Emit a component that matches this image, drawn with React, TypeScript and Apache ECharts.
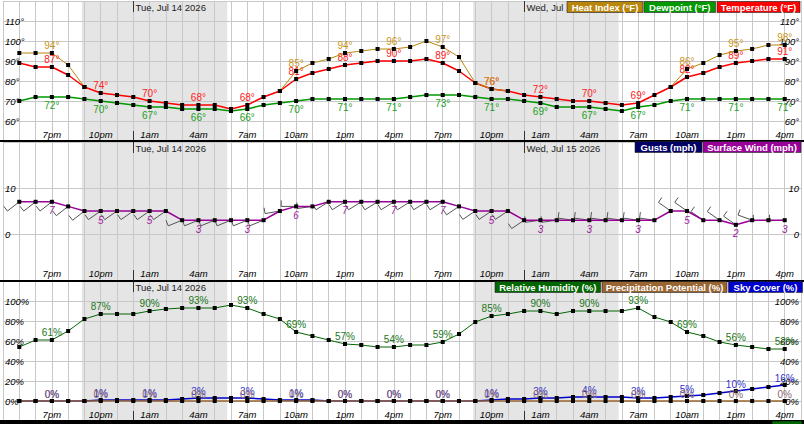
import React, { useEffect, useRef } from 'react';
import * as echarts from 'echarts';

// hour index 0 = Mon 5pm ... 47 = Wed 4pm
const xTickLabels = ['7pm', '10pm', '1am', '4am', '7am', '10am', '1pm', '4pm', '7pm', '10pm', '1am', '4am', '7am', '10am', '1pm', '4pm'];
const dayStarts = [7, 31];
const dayNames = ['Tue, Jul 14 2026', 'Wed, Jul 15 2026'];
const nightStart = [3.84, 27.87];
const nightEnd = [12.77, 36.8];

const temperature = [89, 87, 87, 83, 77, 74, 73, 72, 70, 69, 68, 68, 68, 66, 68, 72, 75, 81, 84, 86, 88, 89, 90, 90, 90, 91, 89, 85, 79, 76, 75, 73, 72, 71, 70, 70, 69, 68, 69, 73, 77, 82, 84, 87, 89, 90, 91, 91];
const heatIndex = [94, 94, 94, 88, 77, null, null, null, null, null, null, null, null, null, null, null, 75, 85, 89, 91, 94, 95, 96, 96, 97, 100, 97, 92, 79, 76, 75, null, null, null, null, null, null, null, null, null, 77, 86, 89, 93, 95, 96, 98, 98];
const dewpoint = [70, 72, 72, 72, 71, 70, 69, 68, 67, 67, 66, 66, 66, 65, 66, 68, 69, 70, 71, 71, 71, 71, 71, 71, 72, 73, 73, 73, 72, 71, 71, 70, 69, 67, 67, 67, 66, 65, 67, 68, 70, 71, 71, 71, 71, 71, 71, 71];
const windSpeed = [7, 7, 7, 6, 5, 5, 5, 5, 5, 5, 3, 3, 3, 3, 3, 3, 5, 6, 6, 7, 7, 7, 7, 7, 7, 7, 7, 6, 5, 5, 5, 3, 3, 3, 3, 3, 3, 3, 3, 3, 5, 5, 3, 3, 2, 3, 3, 3];
const windDir = [232, 232, 232, 232, 232, 235, 235, 235, 235, 235, 248, 248, 248, 248, 248, 248, 260, 270, 262, 238, 238, 238, 238, 238, 238, 238, 238, 236, 236, 236, 236, 236, 262, 262, 278, 278, 278, 278, 278, 278, 305, 305, 305, 305, 305, 290, 268, 268];
const humidity = [54, 61, 61, 70, 82, 87, 87, 87, 90, 92, 93, 93, 93, 96, 93, 87, 82, 69, 65, 61, 57, 56, 54, 54, 56, 56, 59, 67, 79, 85, 87, 90, 90, 87, 90, 90, 90, 90, 93, 84, 79, 69, 65, 59, 56, 54, 52, 52];
const precipitation = [0, 0, 0, 0, 0, 0, 0, 0, 0, 0, 0, 0, 0, 0, 0, 0, 0, 0, 0, 0, 0, 0, 0, 0, 0, 0, 0, 0, 0, 0, 0, 0, 0, 0, 0, 0, 0, 0, 0, 0, 0, 0, 0, 0, 0, 0, 0, 0];
const skyCover = [0, 0, 0, 0, 0, 1, 1, 1, 1, 1, 2, 3, 3, 3, 3, 2, 1, 1, 1, 0, 0, 0, 0, 0, 0, 0, 0, 0, 0, 1, 2, 2, 3, 3, 4, 4, 4, 4, 3, 3, 4, 5, 6, 8, 10, 12, 14, 16];

const FONT = '"Liberation Sans", Arial, sans-serif';

const pairs = (arr: (number | null)[]) => arr.map((v, i) => [i, v == null ? '-' : v]);
const isLabelHour = (i: number) => i % 3 === 2;

const legendItems = [
  { text: 'Heat Index (°F)', color: '#b8860b', x: 567, y: 1.5, w: 76 },
  { text: 'Dewpoint (°F)', color: '#009900', x: 644, y: 1.5, w: 71.5 },
  { text: 'Temperature (°F)', color: '#ff0000', x: 717, y: 1.5, w: 83 },
  { text: 'Gusts (mph)', color: '#000066', x: 635, y: 141.5, w: 67 },
  { text: 'Surface Wind (mph)', color: '#990099', x: 703, y: 141.5, w: 98 },
  { text: 'Relative Humidity (%)', color: '#006600', x: 495, y: 281.5, w: 105.5 },
  { text: 'Precipitation Potential (%)', color: '#996633', x: 602, y: 281.5, w: 125 },
  { text: 'Sky Cover (%)', color: '#0000cc', x: 728.5, y: 281.5, w: 74 },
];

export default function App() {
  const ref = useRef<HTMLDivElement>(null);
  useEffect(() => {
    if (!ref.current) return;
    const chart = echarts.init(ref.current, null, { renderer: 'svg' });

    const grids = [
      { left: 2, right: 2, top: 1, height: 140 },
      { left: 2, right: 2, top: 142, height: 138 },
      { left: 2, right: 2, top: 281, height: 140 },
    ];

    const xAxes = grids.map((_, g) => ({
      type: 'value', gridIndex: g, min: -1, max: 48, interval: 1, z: 1,
      axisLine: { show: false }, axisTick: { show: false },
      splitLine: { show: true, lineStyle: { color: '#c8c8c8', width: 1 } },
      axisLabel: {
        inside: true, margin: 2, fontSize: 9.5, fontStyle: 'italic', color: '#000', fontFamily: FONT,
        showMinLabel: true, showMaxLabel: true,
        formatter: (v: number) => (v >= 2 && v <= 47 && isLabelHour(v)) ? xTickLabels[(v - 2) / 3] : '',
      },
    }));

    const yDefs = [
      { min: 50, max: 120, interval: 10, fmt: (v: number) => (v >= 60 && v <= 110 ? v + '°' : '') },
      { min: -10, max: 20, interval: 10, fmt: (v: number) => (v === 0 || v === 10 ? String(v) : '') },
      { min: -20, max: 120, interval: 20, fmt: (v: number) => (v >= 0 && v <= 100 ? v + '%' : '') },
    ];
    const yAxes: any[] = [];
    yDefs.forEach((d, g) => {
      ['left', 'right'].forEach((pos) => {
        yAxes.push({
          type: 'value', gridIndex: g, position: pos, min: d.min, max: d.max, interval: d.interval, z: 1,
          axisLine: { show: false }, axisTick: { show: false },
          splitLine: { show: pos === 'left', lineStyle: { color: '#c8c8c8', width: 1 } },
          axisLabel: {
            inside: true, margin: 2, fontSize: 9.5, fontStyle: 'italic', color: '#000', fontFamily: FONT,
            showMinLabel: true, showMaxLabel: true, formatter: d.fmt,
          },
        });
      });
    });

    const lineSeries = (name: string, g: number, data: (number | null)[], color: string, width: number,
      labelColor: string, position: string, distance: number, suffix: string, italic = false, z = 3) => ({
      type: 'line', name, xAxisIndex: g, yAxisIndex: g * 2, data: pairs(data), z,
      symbol: 'rect', symbolSize: 4, showAllSymbol: true,
      lineStyle: { color, width }, itemStyle: { color: '#000' },
      connectNulls: false,
      label: {
        show: true, position, distance, color: labelColor, fontSize: 10, fontFamily: FONT,
        fontStyle: italic ? 'italic' : 'normal',
        formatter: (p: any) => (isLabelHour(p.data[0]) ? p.data[1] + suffix : ''),
      },
      emphasis: { disabled: true },
    });

    const nightSeries = (g: number) => ({
      type: 'custom', xAxisIndex: g, yAxisIndex: g * 2, z: 0, silent: true,
      data: nightStart.map((s, k) => [s, nightEnd[k]]),
      encode: { x: [0, 1] },
      clip: true,
      renderItem: (params: any, api: any) => {
        const cs = params.coordSys;
        const x0 = api.coord([api.value(0), 0])[0];
        const x1 = api.coord([api.value(1), 0])[0];
        return { type: 'rect', shape: { x: x0, y: cs.y, width: x1 - x0, height: cs.height }, style: { fill: '#e5e5e5' } };
      },
    });

    // showWed: the bottom panel's Wed label is hidden under its legend in the reference
    const daySeries = (g: number, showWed: boolean) => ({
      type: 'custom', xAxisIndex: g, yAxisIndex: g * 2, z: 1, silent: true,
      data: dayStarts.map((d, k) => [d, k]),
      encode: { x: 0 },
      renderItem: (params: any, api: any) => {
        const cs = params.coordSys;
        const x = Math.round(api.coord([api.value(0), 0])[0]) + 0.5;
        const k = api.value(1);
        const children: any[] = [
          { type: 'line', shape: { x1: x, y1: cs.y, x2: x, y2: cs.y + 11 }, style: { stroke: '#333', lineWidth: 1 } },
          { type: 'line', shape: { x1: x, y1: cs.y + cs.height - 10, x2: x, y2: cs.y + cs.height }, style: { stroke: '#333', lineWidth: 1 } },
        ];
        if (k === 0 || showWed) {
          children.push({ type: 'text', x: x + 2, y: cs.y + 6, style: { text: dayNames[k], fontSize: 9.5, fontFamily: FONT, fill: '#222', align: 'left', verticalAlign: 'middle' } });
        }
        return { type: 'group', children };
      },
    });

    const barbSeries = {
      type: 'custom', xAxisIndex: 1, yAxisIndex: 2, z: 2, silent: true,
      data: windSpeed.map((s, i) => [i, s, windDir[i]]),
      encode: { x: 0, y: 1 },
      renderItem: (params: any, api: any) => {
        const p = api.coord([api.value(0), api.value(1)]);
        const d = (api.value(2) * Math.PI) / 180;
        const ux = Math.sin(d), uy = -Math.cos(d);
        const L = 15, F = 6;
        const tx = p[0] + ux * L, ty = p[1] + uy * L;
        const fx = -uy, fy = ux;
        return {
          type: 'group',
          children: [
            { type: 'line', shape: { x1: p[0], y1: p[1], x2: tx, y2: ty }, style: { stroke: '#555', lineWidth: 1 } },
            { type: 'line', shape: { x1: tx, y1: ty, x2: tx + fx * F, y2: ty + fy * F }, style: { stroke: '#555', lineWidth: 1 } },
          ],
        };
      },
    };

    const graphic: any[] = [
      { type: 'rect', z: 50, shape: { x: 0, y: 140, width: 804, height: 2 }, style: { fill: '#000' }, silent: true },
      { type: 'rect', z: 50, shape: { x: 0, y: 280, width: 804, height: 2 }, style: { fill: '#000' }, silent: true },
      { type: 'rect', z: 50, shape: { x: 0, y: 420, width: 804, height: 4 }, style: { fill: '#000' }, silent: true },
      { type: 'rect', z: 51, shape: { x: 772, y: 421, width: 30, height: 4 }, style: { fill: '#006600', stroke: '#000', lineWidth: 0.5 }, silent: true },
    ];
    legendItems.forEach((it) => {
      graphic.push({
        type: 'rect', z: 60, silent: true,
        shape: { x: it.x, y: it.y, width: it.w, height: 11 },
        style: { fill: it.color, stroke: '#222', lineWidth: 0.6 },
      });
      graphic.push({
        type: 'text', z: 61, silent: true, x: it.x + it.w / 2, y: it.y + 6,
        style: { text: it.text, fill: '#fff', fontSize: 9.5, fontWeight: 'bold', fontFamily: FONT, align: 'center', verticalAlign: 'middle' },
      });
    });

    chart.setOption({
      animation: false,
      backgroundColor: '#fff',
      textStyle: { fontFamily: FONT },
      grid: grids,
      xAxis: xAxes,
      yAxis: yAxes,
      graphic,
      series: [
        nightSeries(0), nightSeries(1), nightSeries(2),
        daySeries(0, true), daySeries(1, true), daySeries(2, false),
        lineSeries('Dewpoint', 0, dewpoint, '#009900', 1.5, '#22a022', 'bottom', 1, '°'),
        lineSeries('Temperature', 0, temperature, '#ff0000', 1.5, '#ff2020', 'top', 1, '°'),
        lineSeries('Heat Index', 0, heatIndex, '#b8860b', 1, '#c8961b', 'top', 1, '°', false, 4),
        barbSeries,
        lineSeries('Surface Wind', 1, windSpeed, '#990099', 1.5, '#a020a0', 'bottom', 2, '', true),
        lineSeries('Sky Cover', 2, skyCover, '#0000cc', 1.5, '#3333cc', 'top', 0, '%'),
        lineSeries('Precipitation Potential', 2, precipitation, '#996633', 1.5, '#8a6a70', 'top', 0, '%'),
        lineSeries('Relative Humidity', 2, humidity, '#006600', 1, '#227722', 'top', 1, '%'),
      ],
    });
    return () => chart.dispose();
  }, []);
  return <div ref={ref} style={{ position: 'absolute', left: 0, top: 0, width: 804, height: 424 }} />;
}
